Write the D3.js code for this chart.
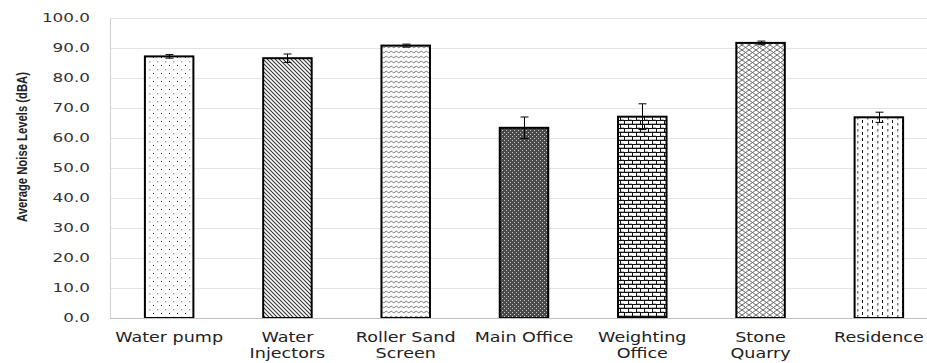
<!DOCTYPE html>
<html><head><meta charset="utf-8">
<script src="https://cdn.jsdelivr.net/npm/d3@7"></script>
<style>html,body{margin:0;padding:0;background:#fff;overflow:hidden}</style>
</head><body>
<script>
const categories = [["Water pump"],["Water","Injectors"],["Roller Sand","Screen"],["Main Office"],["Weighting","Office"],["Stone","Quarry"],["Residence"]];
const values = [87.2, 86.6, 90.8, 63.4, 67.1, 91.7, 66.9];
const errors = [0.6, 1.4, 0.5, 3.6, 4.3, 0.6, 1.7];
const yTicks = [0,10,20,30,40,50,60,70,80,90,100];
const patternIds = ["pDots","pDiag","pWave","pDark","pBrick","pDiamond","pDash"];

const W = 927, H = 363;
const svg = d3.select("body").append("svg").attr("width", W).attr("height", H);
const defs = svg.append("defs");

function pat(id, w, h, build) {
  const p = defs.append("pattern").attr("id", id).attr("patternUnits", "userSpaceOnUse")
    .attr("width", w).attr("height", h);
  p.append("rect").attr("width", w).attr("height", h).attr("fill", "#fff");
  build(p);
}
pat("pDots", 8, 8, p => {
  p.append("rect").attr("x", 1).attr("y", 1).attr("width", 1).attr("height", 1).attr("fill", "#222");
  p.append("rect").attr("x", 5).attr("y", 5).attr("width", 1.5).attr("height", 1.5).attr("fill", "#aaa");
});
pat("pDiag", 4, 4, p => {
  p.append("path").attr("d", "M-1,-1 L5,5 M-1,3 L1,5 M3,-1 L5,1").attr("stroke", "#333").attr("stroke-width", 1.1);
});
pat("pWave", 5, 5, p => {
  p.append("path").attr("d", "M0,2 L1.25,1.2 L2.5,2 L3.75,2.8 L5,2").attr("stroke", "#777").attr("stroke-width", 1).attr("fill", "none");
});
pat("pDark", 4, 4, p => {
  p.append("rect").attr("width", 4).attr("height", 4).attr("fill", "#4a4a4a");
  p.append("rect").attr("x", 0).attr("y", 0).attr("width", 1).attr("height", 1).attr("fill", "#c8c8c8");
  p.append("rect").attr("x", 2).attr("y", 2).attr("width", 1).attr("height", 1).attr("fill", "#c8c8c8");
});
pat("pBrick", 8, 8, p => {
  p.append("path").attr("d", "M0,0.5 H8 M0,4.5 H8 M0.5,0.5 V4.5 M4.5,4.5 V8.5").attr("stroke", "#111").attr("stroke-width", 1).attr("fill", "none");
  p.append("rect").attr("x", 1).attr("y", 3).attr("width", 7).attr("height", 1).attr("fill", "#bbb");
  p.append("rect").attr("x", 5).attr("y", 7).attr("width", 7).attr("height", 1).attr("fill", "#bbb");
});
pat("pDiamond", 7, 5, p => {
  p.append("path").attr("d", "M0,0 L7,5 M0,5 L7,0").attr("stroke", "#666").attr("stroke-width", 1).attr("fill", "none");
});
pat("pDash", 10, 6, p => {
  p.append("rect").attr("x", 2).attr("y", 0).attr("width", 1).attr("height", 3).attr("fill", "#111");
  p.append("rect").attr("x", 7).attr("y", 3).attr("width", 1.5).attr("height", 2.5).attr("fill", "#777");
});

const x = d3.scaleBand().domain(d3.range(categories.length)).range([110, 938]).paddingInner(0.59).paddingOuter(0.295);
const y = d3.scaleLinear().domain([0, 100]).range([318, 18]);

function stretch(sel, f) {
  sel.each(function() {
    const n = this.getComputedTextLength();
    this.setAttribute("textLength", n * f);
    this.setAttribute("lengthAdjust", "spacingAndGlyphs");
  });
}

// gridlines
svg.append("g").selectAll("line").data(yTicks.filter(d => d > 0)).join("line")
  .attr("x1", 110).attr("x2", W).attr("y1", d => Math.round(y(d)) + 0.5).attr("y2", d => Math.round(y(d)) + 0.5)
  .attr("stroke", "#e3e3e3").attr("stroke-width", 1);
// left axis line
svg.append("line").attr("x1", 110.5).attr("x2", 110.5).attr("y1", y(100)).attr("y2", y(0))
  .attr("stroke", "#d0d0d0");

// y tick labels
const yt = svg.append("g").selectAll("text").data(yTicks).join("text")
  .attr("x", 0).attr("y", d => y(d)).attr("dy", "0.35em")
  .attr("font-family", "DejaVu Sans, Verdana, sans-serif").attr("font-size", 12).attr("fill", "#333")
  .text(d => d3.format(".1f")(d));
stretch(yt, 1.4);
yt.each(function() { this.setAttribute("x", 90 - (+this.getAttribute("textLength"))); });

// bars
svg.append("g").selectAll("rect").data(values).join("rect")
  .attr("x", (d, i) => x(i)).attr("width", x.bandwidth())
  .attr("y", d => y(d)).attr("height", d => y(0) - y(d))
  .attr("fill", (d, i) => `url(#${patternIds[i]})`)
  .attr("stroke", "#000").attr("stroke-width", 2);

// bottom axis line
svg.append("line").attr("x1", 110).attr("x2", W).attr("y1", y(0) + 0.5).attr("y2", y(0) + 0.5)
  .attr("stroke", "#bfbfbf");

// error bars
const eb = svg.append("g").attr("stroke", "#000").attr("stroke-width", 1);
values.forEach((v, i) => {
  const cx = Math.round(x(i) + x.bandwidth() / 2) + 0.5;
  const top = y(v + errors[i]), bot = y(v - errors[i]);
  eb.append("line").attr("x1", cx).attr("x2", cx).attr("y1", top).attr("y2", bot);
  eb.append("line").attr("x1", cx - 4).attr("x2", cx + 4).attr("y1", top).attr("y2", top);
  eb.append("line").attr("x1", cx - 4).attr("x2", cx + 4).attr("y1", bot).attr("y2", bot);
});

// x labels
const xl = svg.append("g");
categories.forEach((lines, i) => {
  lines.forEach((t, j) => {
    const tx = xl.append("text").attr("x", x(i) + x.bandwidth() / 2).attr("y", 342 + j * 16)
      .attr("text-anchor", "middle").attr("font-family", "DejaVu Sans, Verdana, sans-serif")
      .attr("font-size", 13.5).attr("fill", "#222").text(t);
    stretch(tx, 1.3);
  });
});

// y title
svg.append("text").attr("transform", "translate(27,147) rotate(-90)")
  .attr("text-anchor", "middle").attr("font-family", "Liberation Sans Narrow, Liberation Sans, Arial, sans-serif")
  .attr("font-weight", "bold").attr("font-size", 14.5).attr("fill", "#222")
  .attr("textLength", 150).attr("lengthAdjust", "spacingAndGlyphs")
  .text("Average Noise Levels (dBA)");
</script>
</body></html>
